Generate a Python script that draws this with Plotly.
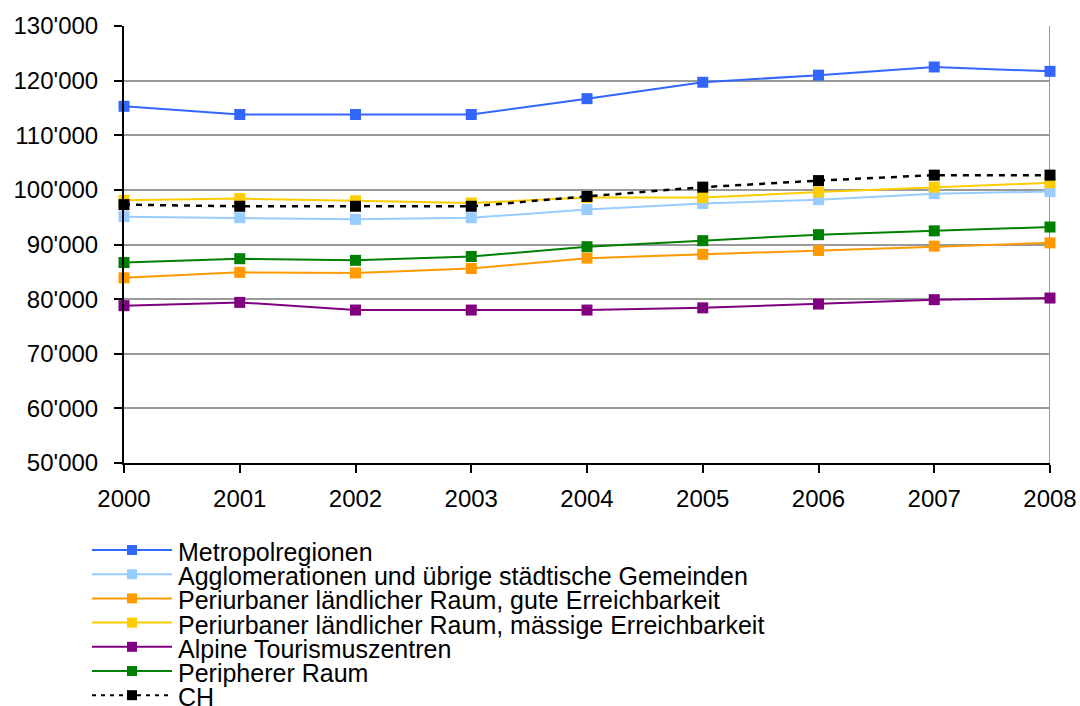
import plotly.graph_objects as go

# Years on the horizontal axis
years = [2000, 2001, 2002, 2003, 2004, 2005, 2006, 2007, 2008]

# Values per spatial type
metropolregionen = [115300, 113800, 113800, 113800, 116700, 119700, 121000, 122500, 121700]
agglomerationen = [95100, 94900, 94600, 94900, 96400, 97500, 98200, 99300, 99700]
periurban_gut = [83900, 84900, 84800, 85600, 87500, 88200, 88900, 89700, 90300]
periurban_maessig = [98100, 98400, 98000, 97600, 98600, 98600, 99600, 100500, 101300]
alpine_tourismus = [78800, 79400, 78000, 78000, 78000, 78400, 79100, 79900, 80200]
peripherer_raum = [86700, 87400, 87100, 87800, 89600, 90700, 91800, 92500, 93200]
schweiz = [97300, 97000, 97000, 97000, 98800, 100500, 101700, 102700, 102700]

series_names = [
    "Metropolregionen",
    "Agglomerationen und übrige städtische Gemeinden",
    "Periurbaner ländlicher Raum, gute Erreichbarkeit",
    "Periurbaner ländlicher Raum, mässige Erreichbarkeit",
    "Alpine Tourismuszentren",
    "Peripherer Raum",
    "CH",
]
series_values = [metropolregionen, agglomerationen, periurban_gut, periurban_maessig,
                 alpine_tourismus, peripherer_raum, schweiz]
series_colors = ["#3366FF", "#99CCFF", "#FF9900", "#FFCC00", "#800080", "#008000", "#000000"]
series_dash = ["solid"] * 6 + ["6px,6px"]

W, H = 1080, 706
L, R, T, B = 124, 30, 26, 243
plot_w, plot_h = W - L - R, H - T - B
FONT = "Liberation Sans, Arial, sans-serif"

fig = go.Figure()
for name, vals, col, dash in zip(series_names, series_values, series_colors, series_dash):
    fig.add_trace(go.Scatter(
        x=years, y=vals, name=name, mode="lines+markers",
        line=dict(color=col, width=2.5 if name == "CH" else 2, dash=dash),
        marker=dict(symbol="square", size=11, color=col),
        cliponaxis=False, showlegend=False,
    ))

# Right-hand frame line of the plot area
fig.add_shape(type="line", xref="x", yref="paper", x0=2008, x1=2008, y0=-0.018, y1=1,
              line=dict(color="#999999", width=2), layer="below")


def px_x(p):
    return (p - L) / plot_w


def px_y(p):
    return (H - B - p) / plot_h


# Legend below the chart: line sample, square marker and label per series
row_y0, row_step = 550, 24.2
for i, (name, col, dash) in enumerate(zip(series_names, series_colors, series_dash)):
    yc = row_y0 + i * row_step
    fig.add_shape(type="line", xref="paper", yref="paper",
                  x0=px_x(92), x1=px_x(172), y0=px_y(yc), y1=px_y(yc),
                  line=dict(color=col, width=2, dash="4px,5px" if name == "CH" else "solid"))
    fig.add_shape(type="rect", xref="paper", yref="paper",
                  x0=px_x(127), x1=px_x(137), y0=px_y(yc - 5), y1=px_y(yc + 5),
                  line=dict(width=0), fillcolor=col)
    fig.add_annotation(xref="paper", yref="paper", x=px_x(176), y=px_y(yc + 2),
                       xanchor="left", yanchor="middle", showarrow=False,
                       text=name, font=dict(family=FONT, size=25, color="#000000"))

fig.update_layout(
    width=W, height=H,
    margin=dict(l=L, r=R, t=T, b=B, pad=0),
    paper_bgcolor="#FFFFFF", plot_bgcolor="#FFFFFF",
    separators=".'",
    font=dict(family=FONT, size=24, color="#000000"),
    showlegend=False,
)
fig.update_xaxes(
    range=[2000, 2008], tickvals=years, ticktext=[str(y) for y in years],
    automargin=False,
    showgrid=False, zeroline=False,
    showline=True, linecolor="#000000", linewidth=2,
    ticks="outside", ticklen=8, tickwidth=1.5, tickcolor="#000000",
    ticklabelstandoff=5,
    tickfont=dict(family=FONT, size=24, color="#000000"),
)
fig.update_yaxes(
    range=[50000, 130000], dtick=10000, tick0=50000, tickformat=",d",
    automargin=False,
    showgrid=True, gridcolor="#999999", gridwidth=2, zeroline=False,
    showline=True, linecolor="#000000", linewidth=2,
    ticks="outside", ticklen=8, tickwidth=1.5, tickcolor="#000000",
    ticklabelstandoff=11,
    tickfont=dict(family=FONT, size=24, color="#000000"),
)

fig.write_html("out.html")
